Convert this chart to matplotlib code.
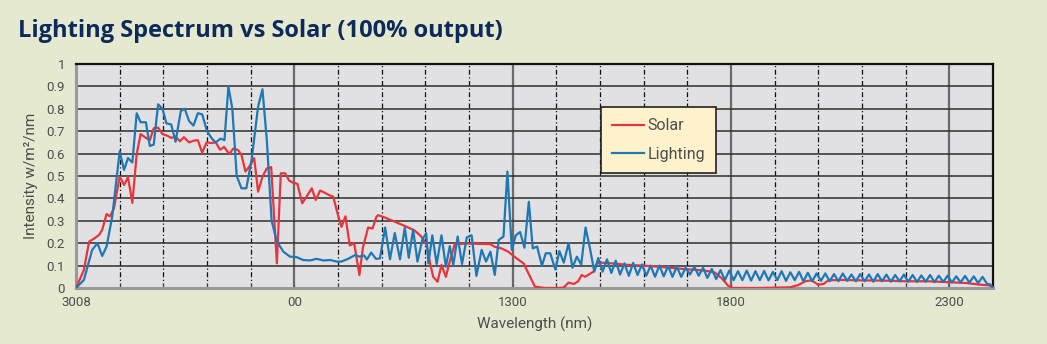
import matplotlib
matplotlib.use("Agg")
import matplotlib.pyplot as plt
from matplotlib.ticker import MultipleLocator

# Solar irradiance (red)
solar_wl = [300, 318, 330, 341, 353, 360, 370, 378, 387, 400, 410, 419, 429, 439, 448,
            460, 469, 478, 488, 498, 509, 518, 528, 538, 547, 559, 570, 579, 589, 599,
            610, 620, 630, 639, 651, 660, 671, 679, 688, 698, 708, 717, 727, 737, 747,
            754, 760, 769, 779, 788, 797, 807, 818, 828, 840, 849, 859, 869, 879, 889,
            901, 908, 917, 927, 937, 949, 957, 969, 979, 988, 992, 1007, 1030, 1053, 1076,
            1091, 1103, 1111, 1118, 1128, 1137, 1147, 1156, 1168, 1179, 1198, 1221, 1248, 1259, 1274,
            1290, 1309, 1325, 1340, 1351, 1374, 1405, 1417, 1428, 1440, 1450, 1458, 1466, 1477, 1485,
            1493, 1504, 1527, 1558, 1596, 1634, 1672, 1702, 1733, 1748, 1763, 1779, 1794, 1805, 1862,
            1935, 1954, 1970, 1985, 1999, 2012, 2023, 2050, 2100, 2150, 2200, 2250, 2300, 2340, 2370,
            2390, 2400]
solar_val = [0.0, 0.08, 0.207, 0.22, 0.237, 0.26, 0.33, 0.32, 0.356, 0.497, 0.46, 0.495, 0.38, 0.598, 0.687,
             0.67, 0.66, 0.713, 0.716, 0.687, 0.68, 0.67, 0.676, 0.655, 0.673, 0.65, 0.658, 0.66, 0.604, 0.65,
             0.647, 0.65, 0.617, 0.63, 0.598, 0.622, 0.616, 0.594, 0.52, 0.545, 0.58, 0.43, 0.497, 0.534, 0.54,
             0.31, 0.11, 0.512, 0.512, 0.48, 0.47, 0.465, 0.378, 0.408, 0.445, 0.393, 0.435, 0.426, 0.415, 0.408,
             0.318, 0.273, 0.32, 0.19, 0.20, 0.058, 0.18, 0.27, 0.265, 0.318, 0.325, 0.315, 0.296, 0.277, 0.256,
             0.229, 0.19, 0.11, 0.05, 0.028, 0.103, 0.05, 0.118, 0.2, 0.197, 0.198, 0.197, 0.196, 0.184, 0.177,
             0.162, 0.132, 0.11, 0.05, 0.006, 0.0, 0.0, 0.002, 0.024, 0.018, 0.03, 0.058, 0.05, 0.063, 0.073,
             0.11, 0.113, 0.11, 0.104, 0.1, 0.095, 0.088, 0.083, 0.079, 0.075, 0.069, 0.043, 0.009, 0.0, 0.0,
             0.003, 0.013, 0.03, 0.034, 0.015, 0.018, 0.034, 0.036, 0.034, 0.033, 0.03, 0.03, 0.026, 0.022, 0.015,
             0.012, 0.005]

# Lamp output (blue)
light_wl = [300, 318, 337, 349, 360, 370, 383, 400, 410, 419, 429, 439, 448, 460, 469,
            478, 488, 498, 507, 518, 528, 540, 549, 559, 569, 579, 589, 600, 612, 620,
            631, 640, 649, 658, 668, 679, 690, 702, 717, 727, 737, 748, 760, 775, 790,
            805, 820, 836, 851, 867, 882, 897, 908, 923, 939, 949, 960, 966, 976, 987,
            996, 1008, 1019, 1030, 1042, 1053, 1062, 1072, 1082, 1093, 1102, 1107, 1116, 1126, 1137,
            1147, 1156, 1164, 1174, 1184, 1195, 1206, 1217, 1229, 1239, 1249, 1259, 1268, 1279, 1288,
            1298, 1307, 1317, 1327, 1337, 1346, 1356, 1367, 1376, 1386, 1398, 1407, 1417, 1428, 1437,
            1447, 1457, 1467, 1477, 1487, 1496, 1506, 1516, 1526, 1536, 1546, 1556, 1566, 1576, 1586,
            1596, 1606, 1616, 1626, 1636, 1646, 1656, 1666, 1676, 1686, 1696, 1706, 1716, 1726, 1736,
            1746, 1756, 1766, 1776, 1786, 1796, 1806, 1816, 1826, 1836, 1846, 1856, 1866, 1876, 1886,
            1896, 1906, 1916, 1926, 1936, 1946, 1956, 1966, 1976, 1986, 1996, 2006, 2016, 2026, 2036,
            2046, 2056, 2066, 2076, 2086, 2096, 2106, 2116, 2126, 2136, 2146, 2156, 2166, 2176, 2186,
            2196, 2206, 2216, 2226, 2236, 2246, 2256, 2266, 2276, 2286, 2296, 2306, 2316, 2326, 2336,
            2346, 2356, 2366, 2376, 2386, 2394, 2400]
light_val = [0.0, 0.036, 0.17, 0.2, 0.143, 0.185, 0.32, 0.61, 0.527, 0.58, 0.56, 0.78, 0.74, 0.74, 0.634,
             0.64, 0.82, 0.80, 0.735, 0.73, 0.653, 0.79, 0.80, 0.745, 0.725, 0.78, 0.775, 0.70, 0.665, 0.65,
             0.667, 0.66, 0.90, 0.80, 0.50, 0.445, 0.445, 0.57, 0.81, 0.887, 0.66, 0.30, 0.207, 0.162, 0.14,
             0.138, 0.125, 0.123, 0.13, 0.123, 0.125, 0.118, 0.118, 0.13, 0.147, 0.14, 0.145, 0.127, 0.158, 0.13,
             0.132, 0.27, 0.128, 0.245, 0.128, 0.27, 0.135, 0.26, 0.118, 0.215, 0.245, 0.11, 0.235, 0.107, 0.235,
             0.095, 0.187, 0.103, 0.23, 0.107, 0.226, 0.235, 0.054, 0.17, 0.118, 0.162, 0.058, 0.214, 0.23, 0.52,
             0.17, 0.235, 0.25, 0.18, 0.385, 0.177, 0.185, 0.1, 0.155, 0.155, 0.082, 0.165, 0.113, 0.2, 0.09,
             0.14, 0.104, 0.27, 0.177, 0.073, 0.134, 0.073, 0.128, 0.067, 0.122, 0.06, 0.11, 0.054, 0.112, 0.058,
             0.105, 0.055, 0.1, 0.05, 0.1, 0.052, 0.098, 0.05, 0.095, 0.05, 0.09, 0.06, 0.095, 0.055, 0.09,
             0.045, 0.085, 0.04, 0.08, 0.035, 0.078, 0.035, 0.075, 0.035, 0.078, 0.033, 0.075, 0.035, 0.076, 0.034,
             0.072, 0.035, 0.075, 0.032, 0.07, 0.035, 0.072, 0.03, 0.068, 0.03, 0.065, 0.032, 0.065, 0.03, 0.062,
             0.03, 0.065, 0.032, 0.06, 0.03, 0.062, 0.03, 0.06, 0.028, 0.062, 0.03, 0.06, 0.028, 0.058, 0.03,
             0.06, 0.028, 0.058, 0.027, 0.056, 0.028, 0.058, 0.026, 0.055, 0.027, 0.055, 0.025, 0.052, 0.025, 0.054,
             0.024, 0.052, 0.022, 0.05, 0.02, 0.015, 0.0]

tick_pos = [300, 800, 1300, 1800, 2300]
tick_labels = ["3008", "00", "1300", "1800", "2300"]
ytick_pos = [0, 0.1, 0.2, 0.3, 0.4, 0.5, 0.6, 0.7, 0.8, 0.9, 1.0]
ytick_labels = ["0", "0.1", "0.2", "0.3", "0.4", "0.5", "0.6", "0.7", "0.8", "0.9", "1"]

bg = "#e4e9cf"
label_font = ["Liberation Sans Narrow", "Roboto", "DejaVu Sans"]
label_color = "#4d4d4d"

fig = plt.figure(figsize=(10.47, 3.44), dpi=100, facecolor=bg)
ax = fig.add_axes([0.0726, 0.1628, 0.8758, 0.6512])
ax.set_facecolor("#e1e1e4")

ax.set_xlim(300, 2400)
ax.set_ylim(0, 1)

# grid: dash-dot every 100 nm, solid at the labelled ticks, solid every 0.1
for x in range(400, 2400, 100):
    if x in tick_pos:
        ax.axvline(x, color="#6a6a6a", lw=1.6, zorder=1)
    else:
        ax.axvline(x, color="#111111", lw=0.9, ls=(0, (4, 2, 1, 2)), zorder=1)
for y in ytick_pos[1:-1]:
    ax.axhline(y, color="#2e2e2e", lw=1.1, zorder=1)

ax.plot(solar_wl, solar_val, color="#e8343b", lw=1.6, label="Solar", zorder=3)
ax.plot(light_wl, light_val, color="#1f77b4", lw=1.6, label="Lighting", zorder=4)

ax.set_xticks(tick_pos)
ax.set_xticklabels(tick_labels)
ax.xaxis.set_minor_locator(MultipleLocator(100))
ax.set_yticks(ytick_pos)
ax.set_yticklabels(ytick_labels)
ax.tick_params(axis="x", which="both", direction="in", length=3, color="#555555",
               labelsize=9.5, labelcolor=label_color, pad=6)
ax.tick_params(axis="y", length=0, labelsize=9.5, labelcolor=label_color, pad=8)
for lbl in ax.get_xticklabels() + ax.get_yticklabels():
    lbl.set_family(label_font)

for side in ["top", "right"]:
    ax.spines[side].set_color("#111111")
    ax.spines[side].set_linewidth(1.6)
for side in ["left", "bottom"]:
    ax.spines[side].set_color("#9a9a9a")
    ax.spines[side].set_linewidth(2.2)

ax.set_ylabel("Intensity w/m²/nm", family=label_font, fontsize=11, color=label_color, labelpad=6)
ax.set_xlabel("Wavelength (nm)", family=label_font, fontsize=11, color=label_color, labelpad=5)

leg = ax.legend(loc="upper left", bbox_to_anchor=(0.5725, 0.808), frameon=True, fancybox=False,
                facecolor="#fdf2cc", edgecolor="#222222", framealpha=1, handlelength=2.0,
                handletextpad=0.2, labelspacing=0.85, borderpad=0.7, borderaxespad=0,
                prop={"family": label_font, "size": 11.5})
leg.get_frame().set_linewidth(1.2)
for t in leg.get_texts():
    t.set_color(label_color)
leg.set_zorder(5)

fig.text(0.017, 0.91, "Lighting Spectrum vs Solar (100% output)", fontsize=17, fontweight="bold",
         color="#0c2a5b", family=["Open Sans", "DejaVu Sans"], va="center", ha="left")

fig.savefig("out.png", dpi=100, facecolor=bg)
